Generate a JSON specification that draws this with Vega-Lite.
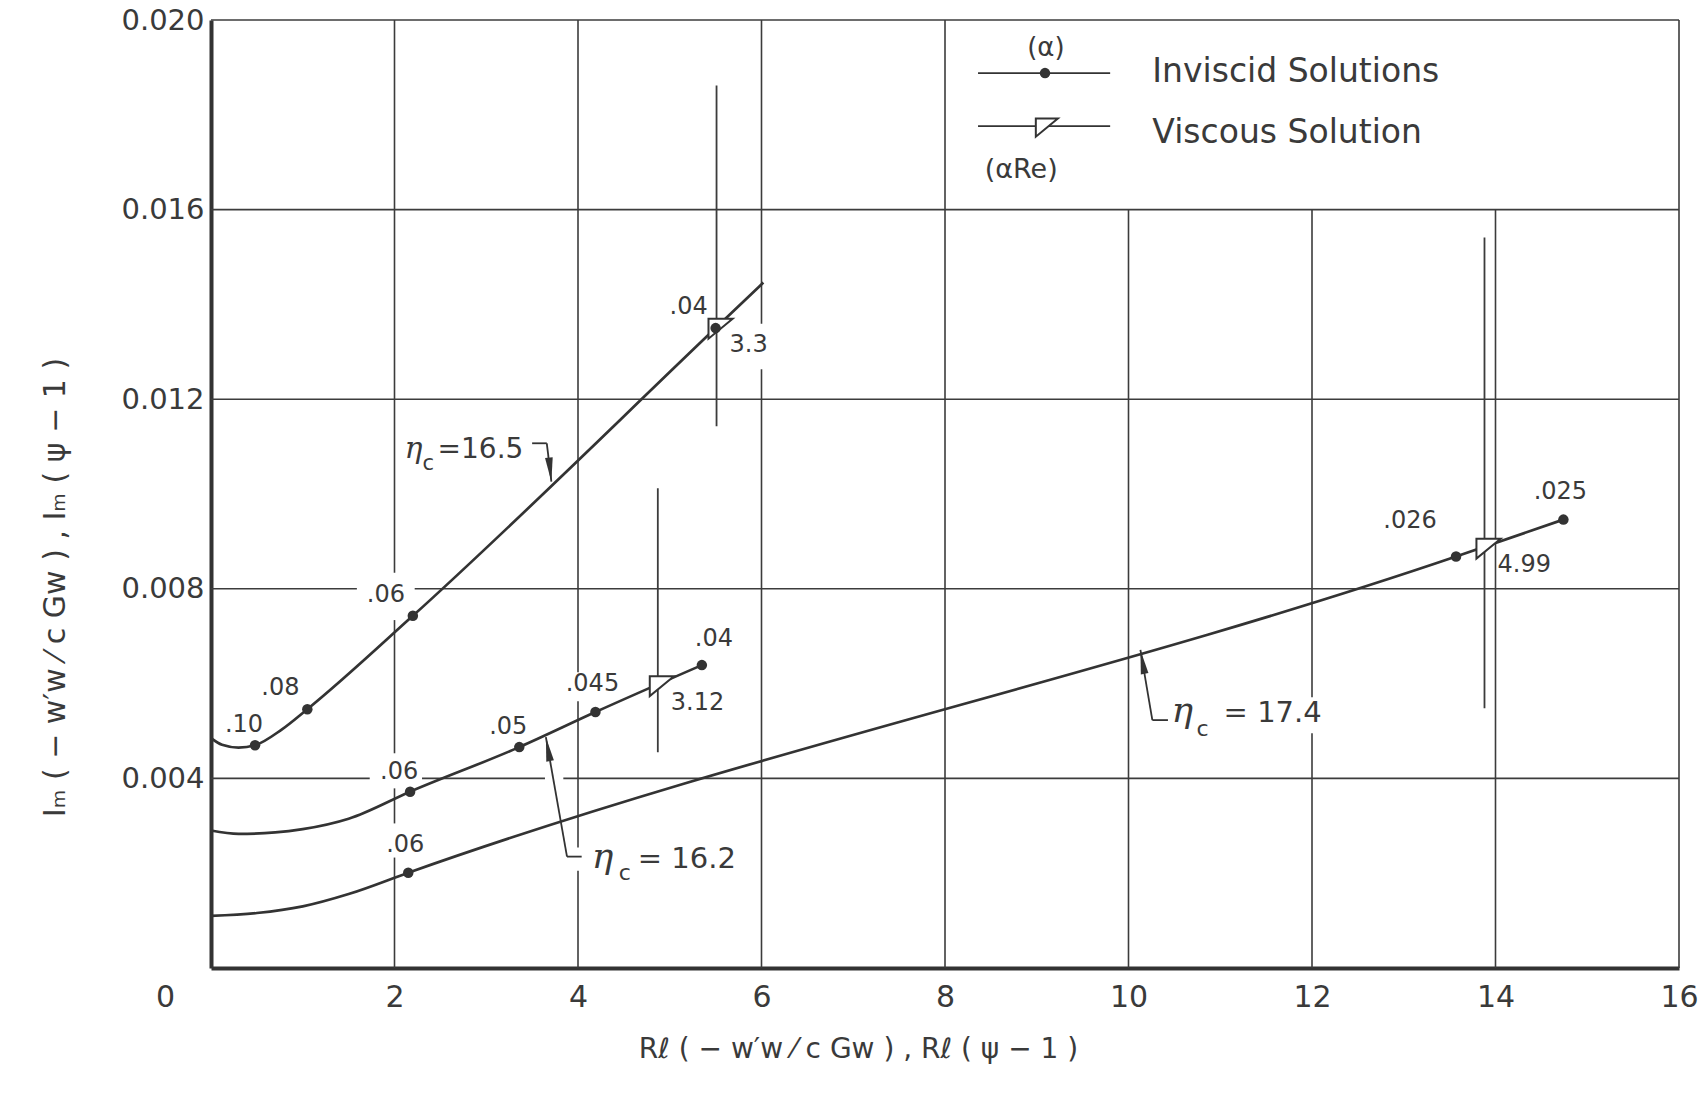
{
  "$schema": "https://vega.github.io/schema/vega-lite/v6.json",
  "width": 1468,
  "height": 948,
  "autosize": {"type": "none"},
  "padding": {"left": 211, "top": 20, "right": 25, "bottom": 136},
  "background": "white",
  "config": {
    "view": {"stroke": null},
    "font": "DejaVu Sans",
    "text": {"font": "DejaVu Sans", "color": "#3a3a3a"}
  },
  "data": {"values": [{}]},
  "datasets": {
    "grid": [
      {"x": 2, "x2": 2, "y": 0, "y2": 0.00233},
      {"x": 2, "x2": 2, "y": 0.00305, "y2": 0.00379},
      {"x": 2, "x2": 2, "y": 0.00453, "y2": 0.00734},
      {"x": 2, "x2": 2, "y": 0.00834, "y2": 0.02},
      {"x": 4, "x2": 4, "y": 0, "y2": 0.00205},
      {"x": 4, "x2": 4, "y": 0.00254, "y2": 0.00563},
      {"x": 4, "x2": 4, "y": 0.00624, "y2": 0.02},
      {"x": 6, "x2": 6, "y": 0, "y2": 0.01263},
      {"x": 6, "x2": 6, "y": 0.01359, "y2": 0.02},
      {"x": 8, "x2": 8, "y": 0, "y2": 0.02},
      {"x": 10, "x2": 10, "y": 0, "y2": 0.016},
      {"x": 12, "x2": 12, "y": 0, "y2": 0.00495},
      {"x": 12, "x2": 12, "y": 0.00571, "y2": 0.016},
      {"x": 14, "x2": 14, "y": 0, "y2": 0.016},
      {"x": 16, "x2": 16, "y": 0, "y2": 0.02},
      {"x": 0, "x2": 1.73, "y": 0.004, "y2": 0.004},
      {"x": 2.3, "x2": 3.64, "y": 0.004, "y2": 0.004},
      {"x": 3.84, "x2": 16, "y": 0.004, "y2": 0.004},
      {"x": 0, "x2": 1.59, "y": 0.008, "y2": 0.008},
      {"x": 2.22, "x2": 16, "y": 0.008, "y2": 0.008},
      {"x": 0, "x2": 16, "y": 0.012, "y2": 0.012},
      {"x": 0, "x2": 16, "y": 0.016, "y2": 0.016},
      {"x": 0, "x2": 16, "y": 0.02, "y2": 0.02}
    ],
    "curves": [
      {"eta": "16.5", "x": 0, "y": 0.00485, "alpha": null},
      {"eta": "16.5", "x": 0.12, "y": 0.00471, "alpha": null},
      {"eta": "16.5", "x": 0.3, "y": 0.00465, "alpha": null},
      {"eta": "16.5", "x": 0.48, "y": 0.0047, "alpha": ".10"},
      {"eta": "16.5", "x": 0.77, "y": 0.00503, "alpha": null},
      {"eta": "16.5", "x": 1.05, "y": 0.00546, "alpha": ".08"},
      {"eta": "16.5", "x": 2.2, "y": 0.00743, "alpha": ".06"},
      {"eta": "16.5", "x": 5.5, "y": 0.0135, "alpha": ".04"},
      {"eta": "16.5", "x": 6.02, "y": 0.01446, "alpha": null},
      {"eta": "16.2", "x": 0, "y": 0.0029, "alpha": null},
      {"eta": "16.2", "x": 0.3, "y": 0.00283, "alpha": null},
      {"eta": "16.2", "x": 0.7, "y": 0.00286, "alpha": null},
      {"eta": "16.2", "x": 1.0, "y": 0.00293, "alpha": null},
      {"eta": "16.2", "x": 1.5, "y": 0.00315, "alpha": null},
      {"eta": "16.2", "x": 2.17, "y": 0.00372, "alpha": ".06"},
      {"eta": "16.2", "x": 3.36, "y": 0.00466, "alpha": ".05"},
      {"eta": "16.2", "x": 4.19, "y": 0.0054, "alpha": ".045"},
      {"eta": "16.2", "x": 5.35, "y": 0.00639, "alpha": ".04"},
      {"eta": "17.4", "x": 0, "y": 0.0011, "alpha": null},
      {"eta": "17.4", "x": 0.5, "y": 0.00116, "alpha": null},
      {"eta": "17.4", "x": 1.0, "y": 0.0013, "alpha": null},
      {"eta": "17.4", "x": 1.5, "y": 0.00156, "alpha": null},
      {"eta": "17.4", "x": 2.15, "y": 0.00201, "alpha": ".06"},
      {"eta": "17.4", "x": 13.57, "y": 0.00868, "alpha": ".026"},
      {"eta": "17.4", "x": 14.74, "y": 0.00946, "alpha": ".025"}
    ],
    "viscous": [
      {"eta": "16.5", "x": 5.51, "y": 0.01352, "aRe": "3.3", "lo": 0.01143, "hi": 0.01862},
      {"eta": "16.2", "x": 4.87, "y": 0.00598, "aRe": "3.12", "lo": 0.00455, "hi": 0.01012},
      {"eta": "17.4", "x": 13.88, "y": 0.00888, "aRe": "4.99", "lo": 0.00548, "hi": 0.01541}
    ]
  },
  "layer": [
    {
      "data": {"name": "grid"},
      "mark": {"type": "rule", "color": "#3c3c3c", "strokeWidth": 1.6},
      "encoding": {
        "x": {
          "field": "x", "type": "quantitative",
          "scale": {"domain": [0, 16], "nice": false, "zero": false},
          "axis": {
            "title": "Rℓ ( − w′w ⁄ c  Gw ) ,   Rℓ ( ψ − 1 )",
            "values": [0, 2, 4, 6, 8, 10, 12, 14, 16],
            "format": "d",
            "grid": false, "ticks": false,
            "domain": true, "domainWidth": 4, "domainColor": "#333333",
            "labelFont": "DejaVu Sans", "labelFontSize": 30, "labelColor": "#3a3a3a",
            "labelPadding": 14, "labelFlush": false, "labelOverlap": false,
            "labelOffset": {"condition": {"test": "datum.value === 0", "value": -46}, "value": 0},
            "titleFont": "DejaVu Sans", "titleFontSize": 28, "titleFontWeight": "normal",
            "titleColor": "#3a3a3a", "titleX": 647, "titleY": 81,
            "titleAlign": "center", "titleBaseline": "middle"
          }
        },
        "x2": {"field": "x2"},
        "y": {
          "field": "y", "type": "quantitative",
          "scale": {"domain": [0, 0.02], "nice": false, "zero": false},
          "axis": {
            "title": "Iₘ ( − w′w ⁄ c  Gw ) ,   Iₘ ( ψ − 1 )",
            "values": [0.004, 0.008, 0.012, 0.016, 0.02],
            "format": ".3f",
            "grid": false, "ticks": false,
            "domain": true, "domainWidth": 4, "domainColor": "#333333",
            "labelFont": "DejaVu Sans", "labelFontSize": 29, "labelColor": "#3a3a3a",
            "labelPadding": 7, "labelFlush": false, "labelOverlap": false,
            "titleFont": "DejaVu Sans", "titleFontSize": 30, "titleFontWeight": "normal",
            "titleColor": "#3a3a3a", "titleX": -156, "titleY": 567,
            "titleAngle": -90, "titleAlign": "center", "titleBaseline": "middle"
          }
        },
        "y2": {"field": "y2"}
      }
    },
    {
      "data": {"name": "viscous"},
      "mark": {"type": "rule", "color": "#3c3c3c", "strokeWidth": 1.8},
      "encoding": {
        "x": {"field": "x", "type": "quantitative"},
        "y": {"field": "lo", "type": "quantitative"},
        "y2": {"field": "hi"}
      }
    },
    {
      "data": {"name": "curves"},
      "mark": {"type": "line", "color": "#333333", "strokeWidth": 2.7, "interpolate": "monotone"},
      "encoding": {
        "x": {"field": "x", "type": "quantitative"},
        "y": {"field": "y", "type": "quantitative"},
        "detail": {"field": "eta"}
      }
    },
    {
      "mark": {"type": "rule", "color": "#333333", "strokeWidth": 1.8},
      "encoding": {"x": {"datum": 3.5}, "x2": {"datum": 3.66}, "y": {"datum": 0.01107}, "y2": {"datum": 0.01107}}
    },
    {
      "mark": {"type": "rule", "color": "#333333", "strokeWidth": 1.8},
      "encoding": {"x": {"datum": 3.66}, "x2": {"datum": 3.71}, "y": {"datum": 0.01107}, "y2": {"datum": 0.01026}}
    },
    {
      "mark": {"type": "rule", "color": "#333333", "strokeWidth": 1.8},
      "encoding": {"x": {"datum": 3.65}, "x2": {"datum": 3.88}, "y": {"datum": 0.00487}, "y2": {"datum": 0.00235}}
    },
    {
      "mark": {"type": "rule", "color": "#333333", "strokeWidth": 1.8},
      "encoding": {"x": {"datum": 3.88}, "x2": {"datum": 4.04}, "y": {"datum": 0.00235}, "y2": {"datum": 0.00235}}
    },
    {
      "mark": {"type": "rule", "color": "#333333", "strokeWidth": 1.8},
      "encoding": {"x": {"datum": 10.13}, "x2": {"datum": 10.26}, "y": {"datum": 0.00671}, "y2": {"datum": 0.00523}}
    },
    {
      "mark": {"type": "rule", "color": "#333333", "strokeWidth": 1.8},
      "encoding": {"x": {"datum": 10.26}, "x2": {"datum": 10.43}, "y": {"datum": 0.00523}, "y2": {"datum": 0.00523}}
    },
    {
      "mark": {"type": "point", "shape": "M 0 0 L 0.35 2.2 L -0.35 2.2 Z", "size": 484, "filled": true, "color": "#333333", "opacity": 1, "angle": 174},
      "encoding": {"x": {"datum": 3.71}, "y": {"datum": 0.01026}}
    },
    {
      "mark": {"type": "point", "shape": "M 0 0 L 0.35 2.2 L -0.35 2.2 Z", "size": 484, "filled": true, "color": "#333333", "opacity": 1, "angle": -10},
      "encoding": {"x": {"datum": 3.65}, "y": {"datum": 0.00487}}
    },
    {
      "mark": {"type": "point", "shape": "M 0 0 L 0.35 2.2 L -0.35 2.2 Z", "size": 484, "filled": true, "color": "#333333", "opacity": 1, "angle": -10},
      "encoding": {"x": {"datum": 10.13}, "y": {"datum": 0.00671}}
    },
    {
      "data": {"name": "viscous"},
      "mark": {"type": "point", "shape": "M -0.7 -0.73 L 1.4 -0.73 L -0.7 1 Z", "size": 529, "filled": false, "fill": "white", "stroke": "#333333", "strokeWidth": 2, "opacity": 1},
      "encoding": {
        "x": {"field": "x", "type": "quantitative"},
        "y": {"field": "y", "type": "quantitative"}
      }
    },
    {
      "data": {"name": "curves"},
      "transform": [{"filter": "datum.alpha != null"}],
      "mark": {"type": "point", "shape": "circle", "size": 110, "filled": true, "color": "#333333", "opacity": 1},
      "encoding": {
        "x": {"field": "x", "type": "quantitative"},
        "y": {"field": "y", "type": "quantitative"}
      }
    },
    {
      "data": {"name": "curves"},
      "transform": [{"filter": "datum.alpha == '.10' || (datum.eta == '16.2' && (datum.alpha == '.06' || datum.alpha == '.05'))"}],
      "mark": {"type": "text", "fontSize": 24, "dx": -11, "dy": -20},
      "encoding": {
        "x": {"field": "x", "type": "quantitative"},
        "y": {"field": "y", "type": "quantitative"},
        "text": {"field": "alpha"}
      }
    },
    {
      "data": {"name": "curves"},
      "transform": [{"filter": "datum.eta == '16.5' && datum.alpha != null && datum.alpha != '.10'"}],
      "mark": {"type": "text", "fontSize": 24, "dx": -27, "dy": -21},
      "encoding": {
        "x": {"field": "x", "type": "quantitative"},
        "y": {"field": "y", "type": "quantitative"},
        "text": {"field": "alpha"}
      }
    },
    {
      "data": {"name": "curves"},
      "transform": [{"filter": "(datum.eta == '16.2' && datum.alpha == '.045') || (datum.eta == '17.4' && (datum.alpha == '.06' || datum.alpha == '.025'))"}],
      "mark": {"type": "text", "fontSize": 24, "dx": -3, "dy": -28},
      "encoding": {
        "x": {"field": "x", "type": "quantitative"},
        "y": {"field": "y", "type": "quantitative"},
        "text": {"field": "alpha"}
      }
    },
    {
      "data": {"name": "curves"},
      "transform": [{"filter": "datum.eta == '16.2' && datum.alpha == '.04'"}],
      "mark": {"type": "text", "fontSize": 24, "dx": 12, "dy": -26},
      "encoding": {
        "x": {"field": "x", "type": "quantitative"},
        "y": {"field": "y", "type": "quantitative"},
        "text": {"field": "alpha"}
      }
    },
    {
      "data": {"name": "curves"},
      "transform": [{"filter": "datum.alpha == '.026'"}],
      "mark": {"type": "text", "fontSize": 24, "dx": -46, "dy": -36},
      "encoding": {
        "x": {"field": "x", "type": "quantitative"},
        "y": {"field": "y", "type": "quantitative"},
        "text": {"field": "alpha"}
      }
    },
    {
      "data": {"name": "viscous"},
      "mark": {"type": "text", "fontSize": 24, "align": "left", "dx": 13, "dy": 18},
      "encoding": {
        "x": {"field": "x", "type": "quantitative"},
        "y": {"field": "y", "type": "quantitative"},
        "text": {"field": "aRe"}
      }
    },
    {
      "mark": {"type": "text", "text": "η", "font": "DejaVu Serif", "fontStyle": "italic", "fontSize": 30, "align": "left", "baseline": "alphabetic"},
      "encoding": {"x": {"datum": 2.11}, "y": {"datum": 0.01077}}
    },
    {
      "mark": {"type": "text", "text": "c", "fontSize": 21, "align": "left", "baseline": "alphabetic", "dx": 18, "dy": 12},
      "encoding": {"x": {"datum": 2.11}, "y": {"datum": 0.01077}}
    },
    {
      "mark": {"type": "text", "text": "=16.5", "fontSize": 28, "align": "left", "baseline": "alphabetic", "dx": 33},
      "encoding": {"x": {"datum": 2.11}, "y": {"datum": 0.01077}}
    },
    {
      "mark": {"type": "text", "text": "η", "font": "DejaVu Serif", "fontStyle": "italic", "fontSize": 36, "align": "left", "baseline": "alphabetic"},
      "encoding": {"x": {"datum": 4.15}, "y": {"datum": 0.002116}}
    },
    {
      "mark": {"type": "text", "text": "c", "fontSize": 22, "align": "left", "baseline": "alphabetic", "dx": 27, "dy": 12},
      "encoding": {"x": {"datum": 4.15}, "y": {"datum": 0.002116}}
    },
    {
      "mark": {"type": "text", "text": "= 16.2", "fontSize": 29, "align": "left", "baseline": "alphabetic", "dx": 46},
      "encoding": {"x": {"datum": 4.15}, "y": {"datum": 0.002116}}
    },
    {
      "mark": {"type": "text", "text": "η", "font": "DejaVu Serif", "fontStyle": "italic", "fontSize": 36, "align": "left", "baseline": "alphabetic"},
      "encoding": {"x": {"datum": 10.47}, "y": {"datum": 0.005185}}
    },
    {
      "mark": {"type": "text", "text": "c", "fontSize": 22, "align": "left", "baseline": "alphabetic", "dx": 25, "dy": 14},
      "encoding": {"x": {"datum": 10.47}, "y": {"datum": 0.005185}}
    },
    {
      "mark": {"type": "text", "text": "=  17.4", "fontSize": 29, "align": "left", "baseline": "alphabetic", "dx": 52},
      "encoding": {"x": {"datum": 10.47}, "y": {"datum": 0.005185}}
    },
    {
      "mark": {"type": "rule", "color": "#333333", "strokeWidth": 1.8},
      "encoding": {"x": {"datum": 8.36}, "x2": {"datum": 9.8}, "y": {"datum": 0.01888}, "y2": {"datum": 0.01888}}
    },
    {
      "mark": {"type": "point", "shape": "circle", "size": 110, "filled": true, "color": "#333333", "opacity": 1},
      "encoding": {"x": {"datum": 9.09}, "y": {"datum": 0.01888}}
    },
    {
      "mark": {"type": "rule", "color": "#333333", "strokeWidth": 1.8},
      "encoding": {"x": {"datum": 8.36}, "x2": {"datum": 9.8}, "y": {"datum": 0.01776}, "y2": {"datum": 0.01776}}
    },
    {
      "mark": {"type": "point", "shape": "M -0.7 -0.73 L 1.4 -0.73 L -0.7 1 Z", "size": 441, "filled": false, "fill": "white", "stroke": "#333333", "strokeWidth": 2, "opacity": 1},
      "encoding": {"x": {"datum": 9.07}, "y": {"datum": 0.01776}}
    },
    {
      "mark": {"type": "text", "text": "(α)", "fontSize": 26},
      "encoding": {"x": {"datum": 9.1}, "y": {"datum": 0.0194}}
    },
    {
      "mark": {"type": "text", "text": "(αRe)", "fontSize": 27},
      "encoding": {"x": {"datum": 8.83}, "y": {"datum": 0.01684}}
    },
    {
      "mark": {"type": "text", "text": "Inviscid  Solutions", "fontSize": 33, "align": "left", "baseline": "alphabetic"},
      "encoding": {"x": {"datum": 10.26}, "y": {"datum": 0.01869}}
    },
    {
      "mark": {"type": "text", "text": "Viscous  Solution", "fontSize": 33, "align": "left", "baseline": "alphabetic"},
      "encoding": {"x": {"datum": 10.26}, "y": {"datum": 0.0174}}
    }
  ]
}
